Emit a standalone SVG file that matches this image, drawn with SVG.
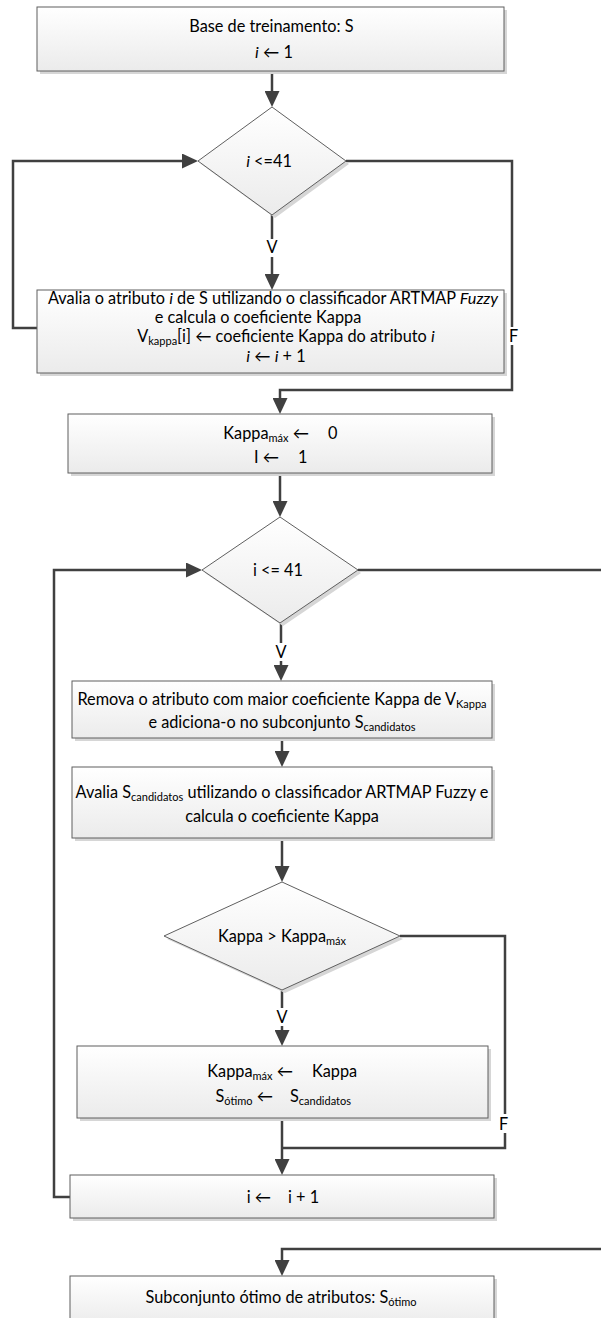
<svg xmlns="http://www.w3.org/2000/svg" width="601" height="1318" viewBox="0 0 601 1318">
<defs>
<linearGradient id="g" x1="0" y1="0" x2="0" y2="1">
<stop offset="0" stop-color="#ffffff"/>
<stop offset="1" stop-color="#ebebeb"/>
</linearGradient>
<marker id="ah" markerUnits="userSpaceOnUse" markerWidth="16" markerHeight="15" refX="8" refY="7.5" orient="auto">
<path d="M0,0 L16,7.5 L0,15 z" fill="#404040"/>
</marker>
</defs>
<style>
.box{fill:url(#g);stroke:#5f5f5f;stroke-width:1}
.sh{fill:#d6d6d6}
.conn{fill:none;stroke:#404040;stroke-width:2.5}
.arr{marker-end:url(#ah)}
text{font-family:Lato,"Liberation Sans",sans-serif;font-size:16.3px;fill:#000}
.m{text-anchor:middle}
.s{font-size:11px}
.bg{fill:#fff}
</style>
<rect width="601" height="1318" fill="#fff"/>

<g id="connectors">
<path class="conn arr" d="M272,71 V99"/>
<path class="conn arr" d="M37,328 H13 V161 H190"/>
<path class="conn arr" d="M346,161 H512 V390 H280 V406"/>
<path class="conn arr" d="M272,215 V282"/>
<path class="conn arr" d="M280,473 V509"/>
<path class="conn arr" d="M70,1197 H54 V570 H194"/>
<path class="conn" d="M358,570 H601"/>
<path class="conn arr" d="M601,1249 H282 V1268"/>
<path class="conn arr" d="M281,623 V673"/>
<path class="conn arr" d="M282,738 V759"/>
<path class="conn arr" d="M282,838 V874"/>
<path class="conn" d="M400,936 H505 V1148 H282"/>
<path class="conn arr" d="M282,990 V1038"/>
<path class="conn arr" d="M282,1118 V1167"/>
<rect class="bg" x="265" y="239" width="14" height="18"/>
<text class="m" x="272" y="253">V</text>
<rect class="bg" x="507" y="327" width="14" height="18"/>
<text x="509" y="342">F</text>
<rect class="bg" x="274" y="643" width="14" height="18"/>
<text class="m" x="281" y="658">V</text>
<rect class="bg" x="275" y="1008" width="14" height="18"/>
<text class="m" x="282" y="1023">V</text>
<rect class="bg" x="498" y="1114" width="14" height="19"/>
<text x="499" y="1130">F</text>
</g>

<g id="n1">
<rect class="sh" x="40" y="10" width="467" height="64"/>
<rect class="box" x="37" y="7" width="467" height="64"/>
<text class="m" x="271.5" y="32">Base de treinamento: S</text>
<text class="m" x="274" y="58"><tspan font-style="italic">i</tspan> ← 1</text>
</g>

<g id="d1">
<polygon class="sh" points="275,110 349,164 275,218 201,164"/>
<polygon class="box" points="272,107 346,161 272,215 198,161"/>
<text class="m" x="269" y="167"><tspan font-style="italic">i</tspan> &lt;=41</text>
</g>

<g id="n2">
<rect class="sh" x="40" y="293" width="467" height="83"/>
<rect class="box" x="37" y="290" width="467" height="83"/>
<text class="m" x="273" y="304">Avalia o atributo <tspan font-style="italic">i</tspan> de S utilizando o classificador ARTMAP <tspan font-style="italic">Fuzzy</tspan></text>
<text class="m" x="258" y="323">e calcula o coeficiente Kappa</text>
<text class="m" x="286" y="342">V<tspan class="s" dy="3">kappa</tspan><tspan dy="-3">[i] ← coeficiente Kappa do atributo </tspan><tspan font-style="italic">i</tspan></text>
<text class="m" x="276" y="362"><tspan font-style="italic">i</tspan> ← <tspan font-style="italic">i</tspan> + 1</text>
</g>

<g id="n3">
<rect class="sh" x="71" y="417" width="424" height="59"/>
<rect class="box" x="68" y="414" width="424" height="59"/>
<text x="309" y="439" text-anchor="end">Kappa<tspan class="s" dy="3">máx</tspan><tspan dy="-3"> ←</tspan></text>
<text x="328" y="439">0</text>
<text x="279" y="463" text-anchor="end">I ←</text>
<text x="298" y="463">1</text>
</g>

<g id="d2">
<polygon class="sh" points="283,520 361,573 283,626 205,573"/>
<polygon class="box" points="280,517 358,570 280,623 202,570"/>
<text class="m" x="278" y="576">i &lt;= 41</text>
</g>

<g id="n4">
<rect class="sh" x="75" y="684" width="420" height="57"/>
<rect class="box" x="72" y="681" width="420" height="57"/>
<text class="m" x="282" y="705">Remova o atributo com maior coeficiente Kappa de V<tspan class="s" dy="3">Kappa</tspan></text>
<text class="m" x="282" y="728">e adiciona-o no subconjunto S<tspan class="s" dy="3">candidatos</tspan></text>
</g>

<g id="n5">
<rect class="sh" x="75" y="770" width="420" height="71"/>
<rect class="box" x="72" y="767" width="420" height="71"/>
<text class="m" x="282" y="798">Avalia S<tspan class="s" dy="3">candidatos</tspan><tspan dy="-3"> utilizando o classificador ARTMAP Fuzzy e</tspan></text>
<text class="m" x="282" y="822">calcula o coeficiente Kappa</text>
</g>

<g id="d3">
<polygon class="sh" points="285,885 403,939 285,993 167,939"/>
<polygon class="box" points="282,882 400,936 282,990 164,936"/>
<text class="m" x="282" y="942">Kappa &gt; Kappa<tspan class="s" dy="3">máx</tspan></text>
</g>

<g id="n6">
<rect class="sh" x="80" y="1049" width="411" height="72"/>
<rect class="box" x="77" y="1046" width="411" height="72"/>
<text x="293" y="1077" text-anchor="end">Kappa<tspan class="s" dy="3">máx</tspan><tspan dy="-3"> ←</tspan></text>
<text x="312" y="1077">Kappa</text>
<text x="273" y="1102" text-anchor="end">S<tspan class="s" dy="3">ótimo</tspan><tspan dy="-3"> ←</tspan></text>
<text x="290" y="1102">S<tspan class="s" dy="3">candidatos</tspan></text>
</g>

<g id="n7">
<rect class="sh" x="73" y="1178" width="424" height="43"/>
<rect class="box" x="70" y="1175" width="424" height="43"/>
<text x="271" y="1203" text-anchor="end">i ←</text>
<text x="288" y="1203">i + 1</text>
</g>

<g id="n8">
<rect class="sh" x="73" y="1279" width="424" height="50"/>
<rect class="box" x="70" y="1276" width="424" height="50"/>
<text class="m" x="281" y="1303">Subconjunto ótimo de atributos: S<tspan class="s" dy="3">ótimo</tspan></text>
</g>
</svg>
